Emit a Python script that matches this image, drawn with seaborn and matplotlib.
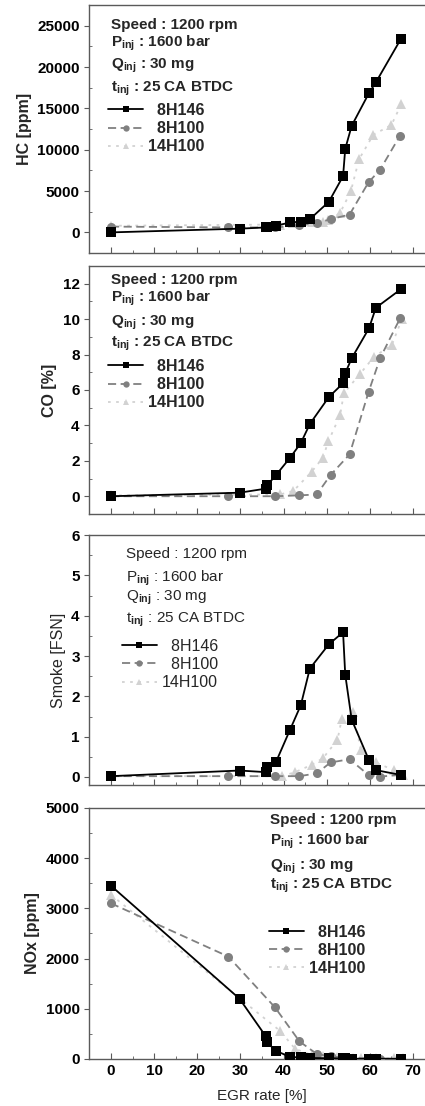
import numpy as np
import pandas as pd
import matplotlib
matplotlib.use("Agg")
import matplotlib.pyplot as plt
from matplotlib.ticker import MultipleLocator
import seaborn as sns

# ------------------------------
# Data
# ------------------------------
fuels = ["8H146", "8H100", "14H100"]

egr_8h146 = [0, 29.8, 35.9, 36.2, 38.2, 41.5, 44.0, 46.1, 50.5, 53.8, 54.3, 55.8, 59.8, 61.4, 67.2]
egr_8h100 = [0, 27.2, 38.0, 43.7, 47.7, 50.9, 55.3, 59.7, 62.4, 67.0]

hc_8h146 = [0, 450, 600, 700, 800, 1200, 1300, 1600, 3700, 6800, 10100, 12900, 16850, 18150, 23400]
hc_8h100 = [700, 600, 600, 850, 1100, 1600, 2150, 6050, 7600, 11700]
egr_14h100_hc = [0, 39.2, 42.3, 46.5, 49.1, 50.4, 53.1, 55.6, 57.5, 60.8, 65.0, 67.3]
hc_14h100 = [800, 950, 1100, 1200, 1300, 1450, 2350, 4960, 8850, 11800, 13000, 15500]

co_8h146 = [0, 0.2, 0.43, 0.62, 1.18, 2.17, 3.0, 4.08, 5.6, 6.38, 6.95, 7.79, 9.48, 10.64, 11.69]
co_8h100 = [0, 0, 0, 0.05, 0.1, 1.2, 2.36, 5.88, 7.8, 10.04]
egr_14h100_co = [0, 39.2, 42.3, 46.5, 49.1, 50.4, 53.1, 54.0, 57.7, 61.0, 65.1, 67.4]
co_14h100 = [0.05, 0.1, 0.3, 1.38, 2.17, 3.1, 4.57, 5.82, 6.9, 7.88, 8.54, 9.98]

smoke_8h146 = [0.02, 0.16, 0.12, 0.24, 0.36, 1.17, 1.78, 2.69, 3.29, 3.59, 2.54, 1.42, 0.42, 0.17, 0.05]
smoke_8h100 = [0.02, 0.02, 0.02, 0.02, 0.09, 0.36, 0.44, 0.05, 0.01, 0.05]
egr_14h100_smoke = [0, 39.6, 42.7, 46.5, 49.1, 52.5, 53.5, 56.2, 57.9, 61.4, 65.5, 67.8]
smoke_14h100 = [0.02, 0.02, 0.12, 0.3, 0.46, 0.92, 1.44, 1.6, 0.67, 0.36, 0.17, 0.05]

nox_8h146 = [3450, 1200, 450, 330, 165, 40, 30, 20, 15, 10, 10, 5, 5, 5, 5]
nox_8h100 = [3100, 2040, 1030, 350, 100, 50, 25, 10, 5, 5]
egr_14h100_nox = [0, 39.2, 42.7, 46.5, 49.1, 52.5, 53.5, 56.2, 57.9, 61.4, 65.5, 67.8]
nox_14h100 = [3270, 560, 200, 85, 50, 30, 25, 20, 15, 10, 10, 10]

egr_ticks = [0, 10, 20, 30, 40, 50, 60, 70]
conditions = ["Speed : 1200 rpm", "P$_{%s}$ : 1600 bar", "Q$_{%s}$ : 30 mg", "t$_{%s}$ : 25 CA BTDC"]

# ------------------------------
# Style
# ------------------------------
sns.set_style("ticks")
plt.rcParams["font.family"] = ["Liberation Sans", "DejaVu Sans"]
plt.rcParams["font.weight"] = "bold"
plt.rcParams["mathtext.fontset"] = "custom"
plt.rcParams["mathtext.rm"] = "Liberation Sans"
plt.rcParams["mathtext.bf"] = "Liberation Sans:bold"

palette = {"8H146": "#000000", "8H100": "#808080", "14H100": "#d2d2d2"}
markers = {"8H146": "s", "8H100": "o", "14H100": "^"}
dashes = {"8H146": "", "8H100": (4.5, 2.5), "14H100": (1.5, 3)}
spine_col = "#5a5a5a"


def make_df(x1, y1, x2, y2, x3, y3):
    parts = []
    for name, x, y in zip(fuels, [x1, x2, x3], [y1, y2, y3]):
        parts.append(pd.DataFrame({"egr": x, "val": y, "fuel": name}))
    return pd.concat(parts, ignore_index=True)


panels = [
    dict(df=make_df(egr_8h146, hc_8h146, egr_8h100, hc_8h100, egr_14h100_hc, hc_14h100),
         ylabel="HC [ppm]", ylim=(-2500, 27500), yticks=np.arange(0, 25001, 5000), minor=2500,
         bold=True, rect=[0.2104, 0.7712, 0.812, 0.2242],
         tx=0.063, ty=[0.905, 0.835, 0.745, 0.652], lx=0.054, ly=0.605),
    dict(df=make_df(egr_8h146, co_8h146, egr_8h100, co_8h100, egr_14h100_co, co_14h100),
         ylabel="CO [%]", ylim=(-1, 13), yticks=np.arange(0, 13, 2), minor=1,
         bold=True, rect=[0.2104, 0.5353, 0.812, 0.2242],
         tx=0.063, ty=[0.928, 0.858, 0.762, 0.675], lx=0.054, ly=0.625),
    dict(df=make_df(egr_8h146, smoke_8h146, egr_8h100, smoke_8h100, egr_14h100_smoke, smoke_14h100),
         ylabel="Smoke [FSN]", ylim=(-0.2, 6), yticks=np.arange(0, 7, 1), minor=0.5,
         bold=False, rect=[0.2104, 0.2902, 0.812, 0.226],
         tx=0.106, ty=[0.910, 0.815, 0.740, 0.652], lx=0.094, ly=0.585),
    dict(df=make_df(egr_8h146, nox_8h146, egr_8h100, nox_8h100, egr_14h100_nox, nox_14h100),
         ylabel="NOx [ppm]", ylim=(0, 5000), yticks=np.arange(0, 5001, 1000), minor=500,
         bold=True, rect=[0.2104, 0.0425, 0.812, 0.227],
         tx=0.523, ty=[0.935, 0.855, 0.757, 0.680], lx=0.52, ly=0.535),
]

fig = plt.figure(figsize=(4.25, 11.06), dpi=100)

for i, p in enumerate(panels):
    ax = fig.add_axes(p["rect"])
    w = "bold" if p["bold"] else "normal"
    sns.lineplot(data=p["df"], x="egr", y="val", hue="fuel", style="fuel",
                 hue_order=fuels, style_order=fuels, palette=palette,
                 markers=markers, dashes=dashes, estimator=None, sort=False,
                 markersize=6.5, markeredgewidth=0, linewidth=1.3,
                 legend=False, ax=ax)
    lines = ax.get_lines()[:3]
    for ln, z in zip(lines, [4, 3, 2]):
        ln.set_zorder(z)

    ax.set_xlim(-5, 75)
    ax.set_ylim(*p["ylim"])
    ax.set_xticks(egr_ticks)
    ax.set_yticks(p["yticks"])
    ax.xaxis.set_minor_locator(MultipleLocator(5))
    ax.yaxis.set_minor_locator(MultipleLocator(p["minor"]))
    ax.tick_params(axis="x", which="both", direction="in", colors=spine_col,
                   labelcolor="black", labelsize=11)
    ax.tick_params(axis="x", which="major", length=4)
    ax.tick_params(axis="x", which="minor", length=2.5)
    ax.tick_params(axis="y", which="major", direction="out", length=3.5,
                   colors=spine_col, labelcolor="black", labelsize=11)
    ax.tick_params(axis="y", which="minor", direction="in", length=2.5, colors=spine_col)
    if i < 3:
        ax.set_xticklabels([])
        ax.set_xlabel("")
    else:
        ax.set_xlabel("EGR rate [%]", fontsize=11, fontweight="normal", labelpad=8)
    for s in ax.spines.values():
        s.set_color(spine_col)
        s.set_linewidth(1.0)

    ax.set_ylabel(p["ylabel"], fontsize=11.5, fontweight=w)

    sub = r"\mathbf{inj}" if p["bold"] else r"\mathrm{inj}"
    for j, (txt, ty) in enumerate(zip(conditions, p["ty"])):
        s = txt % sub if j > 0 else txt
        ax.text(p["tx"], ty, s, transform=ax.transAxes, fontsize=11,
                fontweight=w, va="baseline", ha="left")

    ax.legend(lines, ["  8H146", "  8H100", "14H100"], loc="upper left",
              bbox_to_anchor=(p["lx"], p["ly"]), frameon=False,
              borderpad=0, borderaxespad=0, handlelength=2.2,
              handletextpad=0.3, labelspacing=0.2, markerscale=0.7,
              prop={"size": 11.5, "weight": w})

fig.savefig("out.png", dpi=100)
plt.close()
